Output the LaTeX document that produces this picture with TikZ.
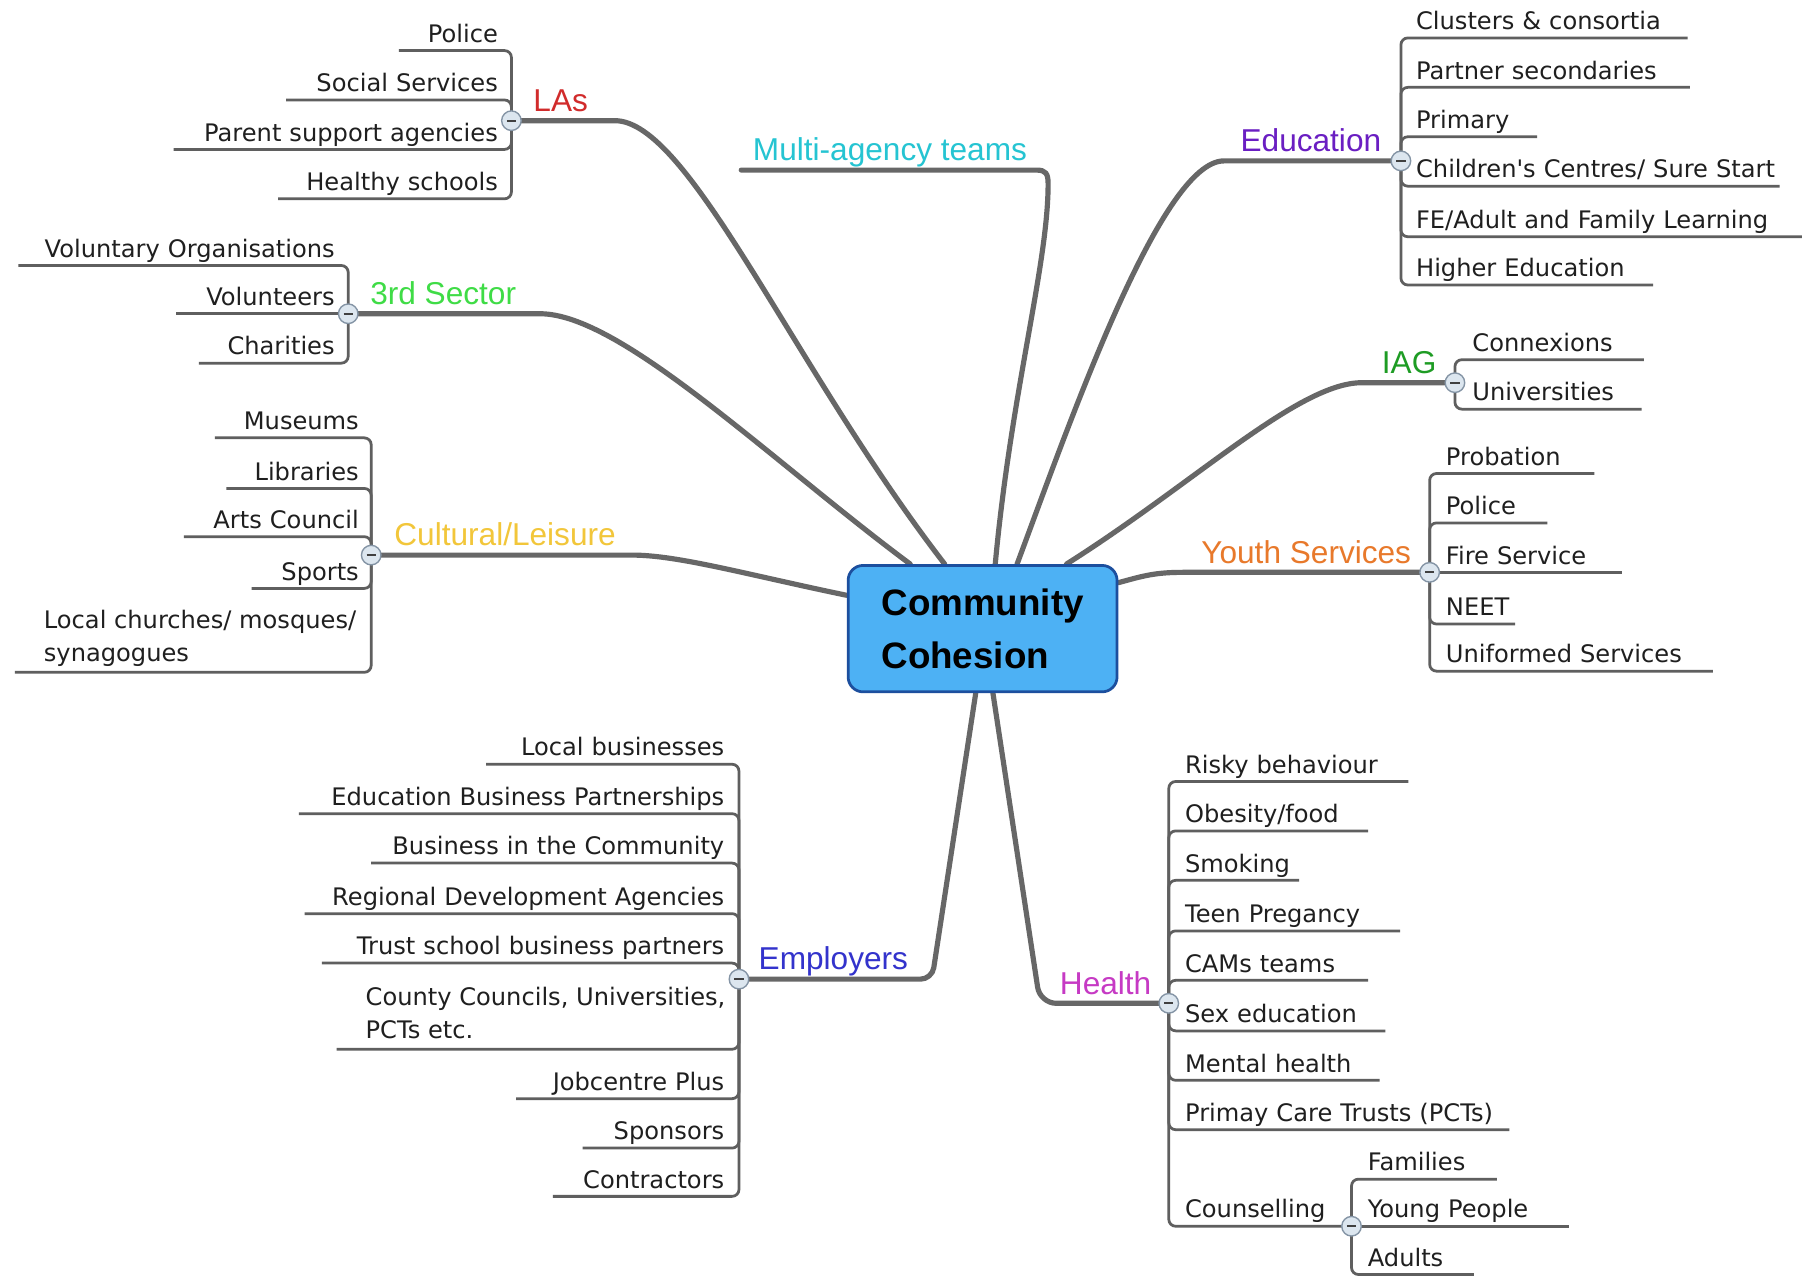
\documentclass[tikz,border=0pt]{standalone}
\usepackage{fontspec}
\setmainfont{DejaVu Sans}
\newfontfamily\labelfam{Liberation Sans}
\usetikzlibrary{backgrounds}

\definecolor{hubfill}{HTML}{4DB1F4}
\definecolor{hubedge}{HTML}{1C4F9E}
\definecolor{trunk}{HTML}{676767}
\definecolor{twig}{HTML}{5F5F5F}
\definecolor{knobfill}{HTML}{DCE6EF}
\definecolor{knobedge}{HTML}{8494A5}
\definecolor{cLA}{HTML}{D12B2B}
\definecolor{cTS}{HTML}{3FDC46}
\definecolor{cCU}{HTML}{F2C63A}
\definecolor{cEM}{HTML}{3333CC}
\definecolor{cMA}{HTML}{25C4D2}
\definecolor{cED}{HTML}{6A1EC2}
\definecolor{cIA}{HTML}{1E9C24}
\definecolor{cYO}{HTML}{E8792B}
\definecolor{cHE}{HTML}{C63AC4}

\begin{document}
\begin{tikzpicture}[x=1pt, y=-1pt,
  trunkline/.style={draw=trunk, line width=4.5pt, line cap=round, line join=round},
  twigline/.style={draw=twig, line width=2.4pt, rounded corners=6pt},
  hub/.style={draw=hubedge, fill=hubfill, line width=2.4pt, rounded corners=13pt,
    minimum width=234pt, minimum height=110pt, align=left, inner sep=0pt,
    font=\labelfam\bfseries\fontsize{32}{46}\selectfont},
  branch/.style={inner sep=0pt, font=\labelfam\fontsize{27.5}{30}\selectfont},
  knob/.style={circle, draw=knobedge, fill=knobfill, line width=1.2pt,
    minimum size=17pt, inner sep=0pt,
    path picture={\draw[line width=1.5pt, draw=black!75]
      ([xshift=-4pt]path picture bounding box.center) --
      ([xshift=4pt]path picture bounding box.center);}},
  leaf/.style={inner xsep=0pt, inner ysep=0pt, text depth=7pt,
    font=\fontsize{21}{28.5}\selectfont, text=black!88},
  leafL/.style={leaf, anchor=south west, align=right},
  leafR/.style={leaf, anchor=south west, align=left},
  leafmulti/.style={inner sep=0pt, anchor=north west, align=left,
    font=\fontsize{21}{28.5}\selectfont, text=black!88},
]
\useasboundingbox (0,0) rectangle (1568,1111);

% central topic
\node[hub] (cc) at (855,547) {Community\\Cohesion};

% collapse knobs
\node[knob] (lasc) at (445,105) {};
\node[knob] (tsc)  at (303,273) {};
\node[knob] (culc) at (323,483) {};
\node[knob] (empc) at (643,852) {};
\node[knob] (educ) at (1219,140) {};
\node[knob] (iagc) at (1266,333) {};
\node[knob] (youc) at (1244,498) {};
\node[knob] (heac) at (1017,873) {};
\node[knob] (couc) at (1176,1067) {};
\coordinate (matend) at (645,148);

% main topics
\node[branch, text=cLA, anchor=base west] (las) at (464,97)  {LAs};
\node[branch, text=cTS, anchor=base west] (tss) at (322,265) {3rd Sector};
\node[branch, text=cCU, anchor=base west] (cul) at (343,475) {Cultural/Leisure};
\node[branch, text=cEM, anchor=base west] (emp) at (660,844) {Employers};
\node[branch, text=cMA, anchor=base west] (mat) at (655,140) {Multi-agency teams};
\node[branch, text=cED, anchor=base east] (edu) at (1202,132) {Education};
\node[branch, text=cIA, anchor=base east] (iag) at (1250,325) {IAG};
\node[branch, text=cYO, anchor=base east] (you) at (1228,490) {Youth Services};
\node[branch, text=cHE, anchor=base east] (hea) at (1002,865) {Health};

% LAs
\node[leafL, text width=86pt]  (la1) at (347,44)  {Police};
\node[leafL, text width=184pt] (la2) at (249,87)  {Social Services};
\node[leafL, text width=282pt] (la3) at (151,130) {Parent support agencies};
\node[leafL, text width=191pt] (la4) at (242,173) {Healthy schools};

% 3rd Sector
\node[leafL, text width=275pt] (ts1) at (16,231)  {Voluntary Organisations};
\node[leafL, text width=138pt] (ts2) at (153,273) {Volunteers};
\node[leafL, text width=118pt] (ts3) at (173,316) {Charities};

% Cultural/Leisure
\node[leafL, text width=125pt] (cu1) at (187,381) {Museums};
\node[leafL, text width=115pt] (cu2) at (197,425) {Libraries};
\node[leafL, text width=152pt] (cu3) at (160,467) {Arts Council};
\node[leafL, text width=93pt]  (cu4) at (219,512) {Sports};
\node[leafmulti] (cu5) at (38,531) {Local churches/ mosques/\\synagogues};
\coordinate (cu5e) at (13,585);

% Employers
\node[leafL, text width=207pt] (em1) at (423,665)  {Local businesses};
\node[leafL, text width=370pt] (em2) at (260,708)  {Education Business Partnerships};
\node[leafL, text width=307pt] (em3) at (323,751)  {Business in the Community};
\node[leafL, text width=365pt] (em4) at (265,795)  {Regional Development Agencies};
\node[leafL, text width=350pt] (em5) at (280,838)  {Trust school business partners};
\node[leafmulti] (em6) at (318,859) {County Councils, Universities,\\PCTs etc.};
\coordinate (em6e) at (293,913);
\node[leafL, text width=181pt] (em7) at (449,956)  {Jobcentre Plus};
\node[leafL, text width=123pt] (em8) at (507,999)  {Sponsors};
\node[leafL, text width=149pt] (em9) at (481,1041) {Contractors};

% Education
\node[leafR, text width=236pt] (ed1) at (1232,33)  {Clusters \& consortia};
\node[leafR, text width=238pt] (ed2) at (1232,76)  {Partner secondaries};
\node[leafR, text width=105pt] (ed3) at (1232,119) {Primary};
\node[leafR, text width=316pt] (ed4) at (1232,162) {Children\textquotesingle s Centres/ Sure Start};
\node[leafR, text width=336pt] (ed5) at (1232,206) {FE/Adult and Family Learning};
\node[leafR, text width=206pt] (ed6) at (1232,248) {Higher Education};

% IAG
\node[leafR, text width=149pt] (ia1) at (1281,313) {Connexions};
\node[leafR, text width=147pt] (ia2) at (1281,356) {Universities};

% Youth Services
\node[leafR, text width=129pt] (yo1) at (1258,412) {Probation};
\node[leafR, text width=88pt]  (yo2) at (1258,455) {Police};
\node[leafR, text width=153pt] (yo3) at (1258,498) {Fire Service};
\node[leafR, text width=60pt]  (yo4) at (1258,543) {NEET};
\node[leafR, text width=232pt] (yo5) at (1258,584) {Uniformed Services};

% Health
\node[leafR, text width=194pt] (he1) at (1031,680) {Risky behaviour};
\node[leafR, text width=159pt] (he2) at (1031,723) {Obesity/food};
\node[leafR, text width=99pt]  (he3) at (1031,766) {Smoking};
\node[leafR, text width=187pt] (he4) at (1031,810) {Teen Pregancy};
\node[leafR, text width=159pt] (he5) at (1031,853) {CAMs teams};
\node[leafR, text width=174pt] (he6) at (1031,897) {Sex education};
\node[leafR, text width=169pt] (he7) at (1031,940) {Mental health};
\node[leafR, text width=282pt] (he8) at (1031,983) {Primay Care Trusts (PCTs)};
\node[leafR] (cou) at (1031,1067) {Counselling};

% Counselling
\node[leafR, text width=112pt] (cs1) at (1190,1026) {Families};
\node[leafR, text width=175pt] (cs2) at (1190,1067) {Young People};
\node[leafR, text width=92pt]  (cs3) at (1190,1109) {Adults};

\begin{scope}[on background layer]
  \fill[white] (0,0) rectangle (1568,1111);

  % trunks from the central topic
  \draw[trunkline] ([xshift=-63pt]cc.north) .. controls (670,400) and (540,273) .. (470,273) -- (tsc.center);
  \draw[trunkline] ([xshift=-33pt]cc.north) .. controls (690,320) and (600,105) .. (535,105) -- (lasc.center);
  \draw[trunkline] ([xshift=11pt]cc.north) .. controls (880,340) and (912,230) .. (912,160)
                   .. controls (912,151) and (910,148) .. (902,148) -- (matend);
  \draw[trunkline] ([xshift=30pt]cc.north) .. controls (930,370) and (1010,140) .. (1065,140) -- (educ.center);
  \draw[trunkline] ([xshift=73pt]cc.north) .. controls (1040,420) and (1130,333) .. (1185,333) -- (iagc.center);
  \draw[trunkline] ([yshift=40pt]cc.east) .. controls (995,501) and (1005,498) .. (1030,498) -- (youc.center);
  \draw[trunkline] ([yshift=29pt]cc.west) .. controls (650,500) and (590,483) .. (550,483) -- (culc.center);
  \draw[trunkline, rounded corners=10pt] ([xshift=-6pt]cc.south) -- (811,852) -- (empc.center);
  \draw[trunkline, rounded corners=14pt] ([xshift=9pt]cc.south) -- (905,873) -- (heac.center);

  % subtopic lines
  \foreach \n in {la1,la2,la3,la4} \draw[twigline] (lasc.center) |- (\n.south west);
  \foreach \n in {ts1,ts3} \draw[twigline] (tsc.center) |- (\n.south west);
  \draw[twigline] (tsc.center) -- (ts2.south west);
  \foreach \n in {cu1,cu2,cu3,cu4} \draw[twigline] (culc.center) |- (\n.south west);
  \draw[twigline] (culc.center) |- (cu5e);
  \foreach \n in {em1,em2,em3,em4,em5,em7,em8,em9} \draw[twigline] (empc.center) |- (\n.south west);
  \draw[twigline] (empc.center) |- (em6e);
  \foreach \n in {ed1,ed2,ed3,ed4,ed5,ed6} \draw[twigline] (educ.center) |- (\n.south east);
  \foreach \n in {ia1,ia2} \draw[twigline] (iagc.center) |- (\n.south east);
  \foreach \n in {yo1,yo2,yo4,yo5} \draw[twigline] (youc.center) |- (\n.south east);
  \draw[twigline] (youc.center) -- (yo3.south east);
  \foreach \n in {he1,he2,he3,he4,he5,he6,he7,he8} \draw[twigline] (heac.center) |- (\n.south east);
  \draw[twigline] (heac.center) |- (couc.center);
  \foreach \n in {cs1,cs3} \draw[twigline] (couc.center) |- (\n.south east);
  \draw[twigline] (couc.center) -- (cs2.south east);
\end{scope}
\end{tikzpicture}
\end{document}
